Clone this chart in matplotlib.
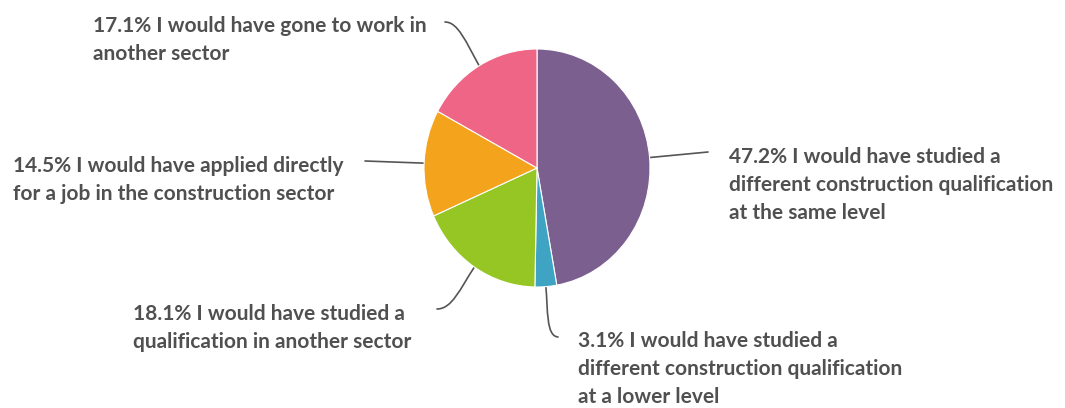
import numpy as np
import matplotlib.pyplot as plt
from matplotlib.path import Path
from matplotlib.patches import PathPatch

plt.rcParams['font.family'] = ['Lato', 'DejaVu Sans']

shares = [47.2, 3.1, 18.1, 14.5, 17.1]
answers = [
    'I would have studied a\ndifferent construction qualification\nat the same level',
    'I would have studied a\ndifferent construction qualification\nat a lower level',
    'I would have studied a\nqualification in another sector',
    'I would have applied directly\nfor a job in the construction sector',
    'I would have gone to work in\nanother sector',
]
colors = ['#7b5f8f', '#3fa3c4', '#95c623', '#f4a41c', '#ef6585']

W, H = 1065, 408
fig = plt.figure(figsize=(W / 100, H / 100), dpi=100)

# background axes in pixel units for labels and leader lines
ax = fig.add_axes([0, 0, 1, 1])
ax.set_xlim(0, W)
ax.set_ylim(H, 0)
ax.axis('off')

# pie placement (pixels)
cx, cy, rx, ry = 537, 168, 113, 119
pax = fig.add_axes([(cx - rx) / W, 1 - (cy + ry) / H, 2 * rx / W, 2 * ry / H])
pax.pie(shares, colors=colors, startangle=90, counterclock=False,
        wedgeprops=dict(edgecolor='white', linewidth=0.8))
pax.set_aspect('auto')
pax.set_xlim(-1, 1)
pax.set_ylim(-1, 1)
pax.axis('off')

# mid angle of each wedge, clockwise from the top
frac = np.array(shares) / sum(shares)
mids = (np.cumsum(frac) - frac / 2) * 2 * np.pi
starts = [(cx + rx * np.sin(a), cy - ry * np.cos(a)) for a in mids]

# leader line shapes: control points after the start, and label anchor
leaders = [
    [(708, 152)],
    [(548, 310), (546, 336), (558, 337)],
    [(460, 289), (452, 309), (437, 309)],
    [(365, 161)],
    [(466, 42), (458, 22), (445, 22)],
]
label_pos = [(729, 158), (578, 342), (133, 315), (13, 166), (93, 27)]
step = 27.0  # pixels between label lines

for s, pts, (tx, ty), pct, txt in zip(starts, leaders, label_pos, shares, answers):
    verts = [s] + pts
    codes = [Path.MOVETO] + ([Path.LINETO] if len(pts) == 1 else [Path.CURVE4] * 3)
    ax.add_patch(PathPatch(Path(verts, codes), fill=False, edgecolor='#555555',
                           linewidth=1.2, capstyle='round'))
    lines = f'{pct}% {txt}'
    n = lines.count('\n') + 1
    ax.text(tx, ty + (n - 1) * step / 2, lines, ha='left', va='center',
            fontsize=15, fontweight='bold', color='#505050', linespacing=1.5)

fig.savefig('out.png', dpi=100)
